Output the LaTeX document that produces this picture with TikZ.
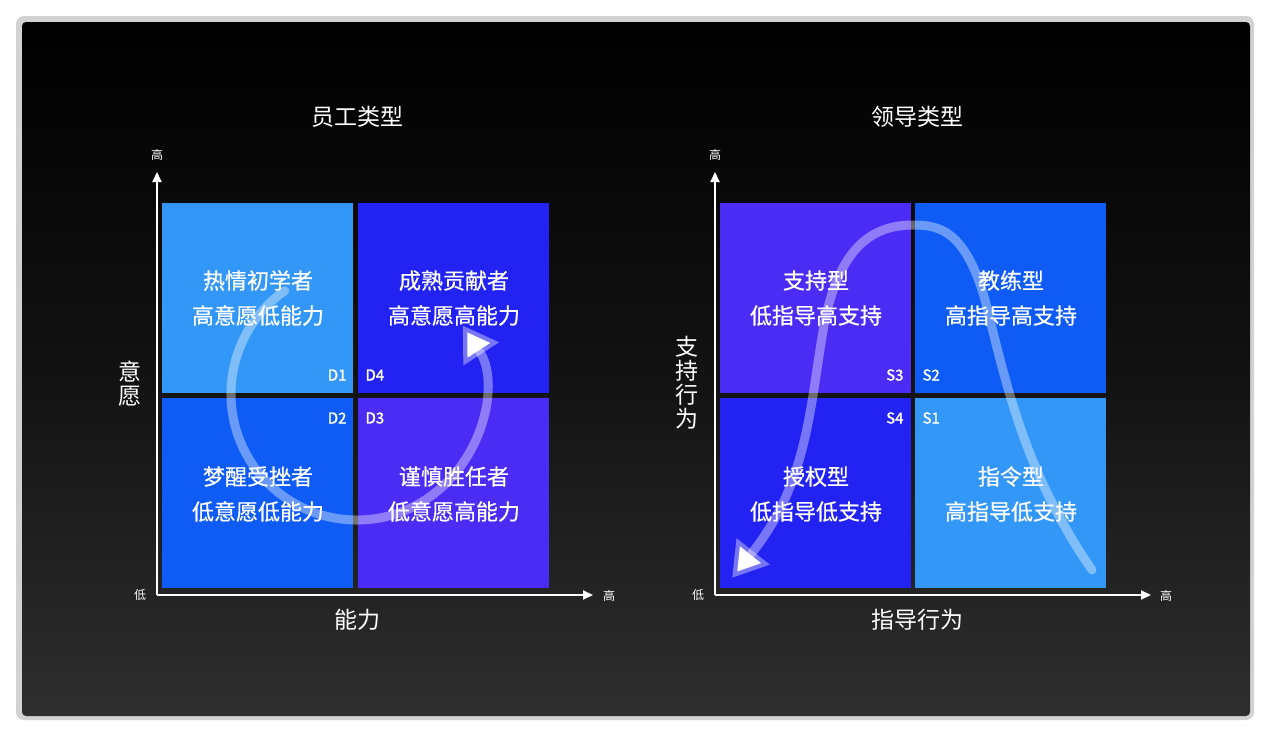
\documentclass[tikz,border=0pt]{standalone}
\usepackage{fontspec}
\setmainfont{Noto Sans CJK SC}
\newfontfamily\bfc[FakeBold=1.6]{Noto Sans CJK SC}
\newfontfamily\mfc[FakeBold=0.6]{Noto Sans CJK SC}
\usetikzlibrary{arrows.meta}
\definecolor{qLight}{HTML}{3397F7}
\definecolor{qBlue}{HTML}{0E5CF5}
\definecolor{qDeep}{HTML}{2222F2}
\definecolor{qPurple}{HTML}{4A2CF5}
\tikzset{
  quad/.style={draw=none,minimum width=191pt,minimum height=190pt,inner sep=0pt,anchor=north west},
  qtext/.style={text=white,font=\mfc\fontsize{22}{35}\selectfont,align=center},
  tag/.style={text=white,font=\bfc\fontsize{15}{15}\selectfont},
  ttl/.style={text=white,font=\fontsize{23}{25}\selectfont},
  axl/.style={text=white,font=\fontsize{23}{24}\selectfont,align=center},
  tick/.style={text=white,font=\fontsize{12}{12}\selectfont},
  axis/.style={draw=white,line width=2pt,-{Triangle[length=10pt,width=9pt]}},
  flow/.style={draw=white,draw opacity=0.38,line width=9pt,line cap=round,-{Triangle[length=34pt,width=40pt]}}
}
\begin{document}
\begin{tikzpicture}[x=1pt,y=-1pt]
\useasboundingbox (0,0) rectangle (1270,736);
\fill[white] (0,0) rectangle (1270,736);
\fill[gray!35,rounded corners=8pt] (16,16) rectangle (1254,720);
\shade[top color=black,bottom color=black!82,middle color=black!93,rounded corners=4pt] (22,22) rectangle (1250,716);
% titles
\node[ttl] (t1) at (357,117) {员工类型};
\node[ttl] (t2) at (917,117) {领导类型};
% left quadrants
\node[quad,fill=qLight] (d1) at (162,203) {};
\node[quad,fill=qDeep] (d4) at (358,203) {};
\node[quad,fill=qBlue] (d2) at (162,398) {};
\node[quad,fill=qPurple] (d3) at (358,398) {};
% right quadrants
\node[quad,fill=qPurple] (s3) at (720,203) {};
\node[quad,fill=qBlue] (s2) at (915,203) {};
\node[quad,fill=qDeep] (s4) at (720,398) {};
\node[quad,fill=qLight] (s1) at (915,398) {};
% flows
\draw[flow] (357,394) ++(-125:126) arc[start angle=-125,end angle=-393,radius=126];
\draw[flow] (1092,570) .. controls (1030,480) and (1010,400) .. (990,320)
  .. controls (970,230) and (940,225) .. (913,225)
  .. controls (870,225) and (840,250) .. (825,320)
  .. controls (810,400) and (810,480) .. (732,578);
% texts
\node[qtext] (x1) at (258,298) {热情初学者\\高意愿低能力};
\node[qtext] (x4) at (454,298) {成熟贡献者\\高意愿高能力};
\node[qtext] (x2) at (258,494) {梦醒受挫者\\低意愿低能力};
\node[qtext] (x3) at (454,494) {谨慎胜任者\\低意愿高能力};
\node[qtext] (y3) at (816,298) {支持型\\低指导高支持};
\node[qtext] (y2) at (1011,298) {教练型\\高指导高支持};
\node[qtext] (y4) at (816,494) {授权型\\低指导低支持};
\node[qtext] (y1) at (1011,494) {指令型\\高指导低支持};
\node[tag,anchor=east] (l1) at (350,375) {D1};
\node[tag,anchor=west] (l4) at (362,375) {D4};
\node[tag,anchor=east] (l2) at (350,418) {D2};
\node[tag,anchor=west] (l3) at (362,418) {D3};
\node[tag,anchor=east] (r3) at (907,375) {S3};
\node[tag,anchor=west] (r2) at (919,375) {S2};
\node[tag,anchor=east] (r4) at (907,418) {S4};
\node[tag,anchor=west] (r1) at (919,418) {S1};
% axes
\coordinate (o1) at (157,595);
\coordinate (ya) at (157,172);
\coordinate (xa) at (593,595);
\draw[axis] (o1) -- (ya);
\draw[axis] (o1) -- (xa);
\coordinate (o2) at (715,595);
\coordinate (yb) at (715,172);
\coordinate (xb) at (1151,595);
\draw[axis] (o2) -- (yb);
\draw[axis] (o2) -- (xb);
\node[tick] (h1) at (157,155) {高};
\node[tick] (lo1) at (140,595) {低};
\node[tick] (h2) at (609,596) {高};
\node[tick] (h3) at (715,155) {高};
\node[tick] (lo2) at (698,595) {低};
\node[tick] (h4) at (1166,596) {高};
\node[axl] (a1) at (357,620) {能力};
\node[axl] (a2) at (917,620) {指导行为};
\node[axl] (a3) at (130,384) {意\\愿};
\node[axl] (a4) at (687,383) {支\\持\\行\\为};
\end{tikzpicture}
\end{document}
